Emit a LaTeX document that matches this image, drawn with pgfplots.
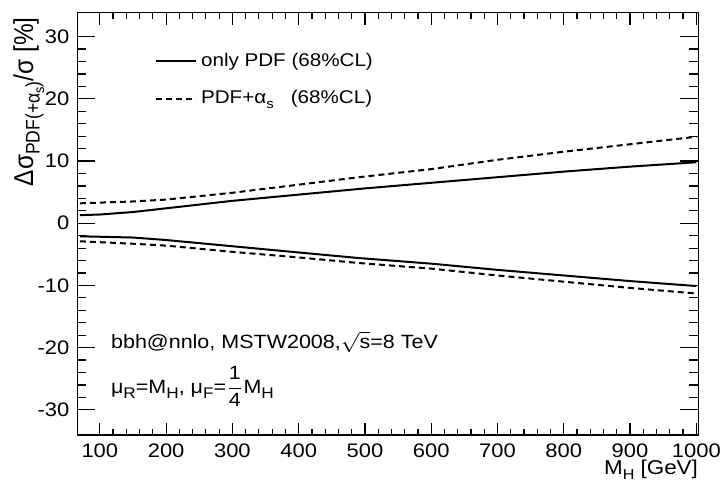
\documentclass[border=0pt]{standalone}
\usepackage{amsmath}
\usepackage{graphicx}
\usepackage{fontspec}
\setmainfont{Liberation Sans}
\usepackage{pgfplots}
\pgfplotsset{compat=1.18}
\newcommand\sub[1]{\raisebox{-0.45ex}{\scalebox{0.72}{#1}}}
\newcommand\subb[1]{\raisebox{-0.5ex}{\scalebox{0.8}{#1}}}
\newcommand\sx[1]{\scalebox{1.12}[1]{#1}}
\begin{document}
\begin{tikzpicture}[x=0.5pt,y=0.5pt]
\path[use as bounding box] (-77.3,-49) rectangle (647.7,435);
\begin{axis}[
  at={(0,0)}, anchor=south west,
  scale only axis, width=310.5pt, height=211.15pt,
  xmin=66, xmax=1003, ymin=-34.05, ymax=33.85,
  xtick={100,200,...,1000}, ytick={-30,-20,...,30},
  xticklabels={\sx{100},\sx{200},\sx{300},\sx{400},\sx{500},\sx{600},\sx{700},\sx{800},\sx{900},\sx{1000}},
  yticklabels={\sx{-30},\sx{-20},\sx{-10},\sx{0},\sx{10},\sx{20},\sx{30}},
  minor x tick num=4, minor y tick num=4,
  tick align=inside, major tick length=9pt, minor tick length=4.5pt,
  xtick style={/pgfplots/major tick length=6pt, /pgfplots/minor tick length=3pt},
  xtick pos=both, ytick pos=both,
  tick style={black, line width=0.6pt},
  axis line style={line width=0.7pt},
  xticklabel style={font=\fontsize{9.8}{11}\selectfont, yshift=-1pt},
  yticklabel style={font=\fontsize{9.8}{11}\selectfont, xshift=-0.5pt},
  legend style={at={(axis cs:182.8,28.1)}, anchor=north west, draw=none, fill=none,
     font=\fontsize{9.2}{10.5}\selectfont, row sep=6.6pt, inner sep=0pt,
     /tikz/every even column/.append style={column sep=5pt}},
  legend cell align=left,
  legend image code/.code={\draw[#1] (0pt,0pt) -- (20pt,0pt);},
  clip=false,
]
\addplot[black, line width=1pt] coordinates {(70,1.3) (100,1.4) (150,1.8) (200,2.4) (300,3.6) (400,4.6) (500,5.6) (600,6.5) (700,7.4) (800,8.3) (900,9.1) (1000,9.8)};
\addlegendentry{\sx{only PDF (68\%CL)}}
\addplot[black, line width=1pt, dash pattern=on 3pt off 2pt] coordinates {(70,3.2) (150,3.5) (200,3.8) (300,4.9) (400,6.2) (491,7.4) (600,8.7) (700,10.2) (800,11.5) (900,12.7) (1000,13.9)};
\addlegendentry{\sx{PDF+α\sub{s}\ \ \ (68\%CL)}}
\addplot[black, line width=1pt, forget plot] coordinates {(70,-2.1) (150,-2.3) (200,-2.7) (300,-3.7) (400,-4.7) (491,-5.6) (600,-6.5) (700,-7.5) (800,-8.4) (900,-9.3) (1000,-10.1)};
\addplot[black, line width=1pt, dash pattern=on 3pt off 2pt, forget plot] coordinates {(70,-2.9) (150,-3.3) (200,-3.6) (300,-4.6) (400,-5.5) (491,-6.4) (600,-7.3) (700,-8.4) (800,-9.4) (900,-10.4) (1000,-11.3)};
\node[anchor=base west, font=\fontsize{9.6}{11}\selectfont, inner sep=0pt] at (axis cs:116.4,-20.1) {\sx{bbh@nnlo, MSTW2008,$\sqrt{\text{s}}$=8 TeV}};
\node[anchor=base west, font=\fontsize{9.6}{11}\selectfont, inner sep=0pt] at (axis cs:116.4,-27.3) {\sx{μ\subb{R}=M\subb{H}, μ\subb{F}=$\dfrac{\text{1}}{\text{4}}$M\subb{H}}};
\node[anchor=base east, font=\fontsize{10}{12}\selectfont, inner sep=0pt] at (rel axis cs:1,-0.0947) {\sx{M\sub{H} [GeV]}};
\node[anchor=base east, rotate=90, font=\fontsize{12.2}{14}\selectfont, inner sep=0pt] at (rel axis cs:-0.0713,0.99) {\scalebox{1}[1.12]{Δσ\sub{PDF(+α\sub{s})}/σ [\%]}};
\end{axis}
\end{tikzpicture}
\end{document}
